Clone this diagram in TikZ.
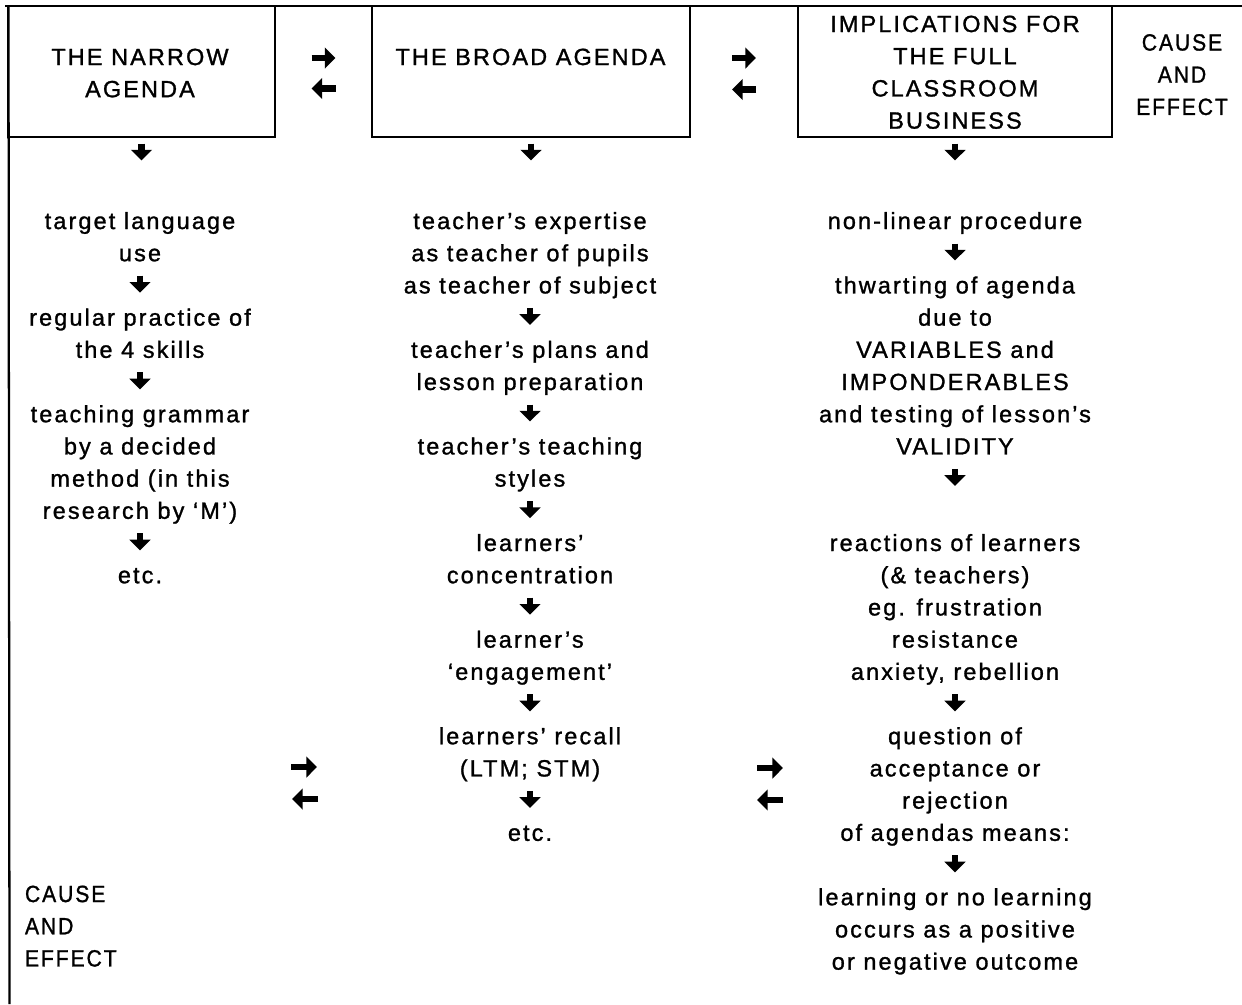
\documentclass[tikz,border=0pt]{standalone}
\usepackage{fontspec}
\usepackage{graphicx}
\setmainfont{Liberation Sans}[LetterSpace=9,FakeBold=1.2]
\usetikzlibrary{arrows.meta,calc}
\begin{document}
\begin{tikzpicture}[x=0.75pt,y=-0.75pt,
  rule/.style={line width=1.7pt},
  box/.style={draw,line width=1.6pt,inner sep=0pt,outer sep=0pt},
  txt/.style={font=\fontsize{17.6pt}{24.15pt}\selectfont,align=center,
    inner sep=0pt,outer sep=0pt,anchor=north,
    execute at end node=\strut},
  fat/.style={line width=4.8pt,-{Triangle[length=8pt,width=15.5pt]}},
  downstep/.style={to path={($(\tikztostart)+(0,#1)$) -- ($(\tikztostart)+(0,#1+17)$)}},
  downstep/.default=4.8,
  rightstep/.style={to path={($(\tikztostart)!.5!(\tikztotarget)+(-12,#1)$) -- ($(\tikztostart)!.5!(\tikztotarget)+(12,#1)$)}},
  leftstep/.style={to path={($(\tikztostart)!.5!(\tikztotarget)+(12,#1)$) -- ($(\tikztostart)!.5!(\tikztotarget)+(-12,#1)$)}},
]
\useasboundingbox (0,0) rectangle (1242,1004);
\fill[white] (0,0) rectangle (1242,1004);

% frame: top rule and left rule
\draw[rule] (5,6) -- (1242,6);
\draw[rule] (8.5,6) -- (9.5,1004);

% heading boxes
\node[box,minimum width=200.25pt,minimum height=98.25pt] (nar) at (141.5,71.5) {};
\node[box,minimum width=238.5pt,minimum height=98.25pt] (bro) at (531,71.5) {};
\node[box,minimum width=235.5pt,minimum height=98.25pt] (imp) at (955,71.5) {};

\node[txt] (nart) at (140,42.5) {\strut THE NARROW\\AGENDA};
\node[txt] (brot) at (530.5,42.5) {\strut THE BROAD AGENDA};
\node[txt] (impt) at (955,9.5) {\strut IMPLICATIONS FOR\\THE FULL\\CLASSROOM\\BUSINESS};
\node[txt] (ce1) at (1182,28) {\strut\scalebox{0.9}[1]{CAUSE}\\\scalebox{0.9}[1]{AND}\\\scalebox{0.9}[1]{EFFECT}};

% links between the heading boxes
\draw[fat] (nar.east) to[rightstep=-13.5] (bro.west);
\draw[fat] (bro.west) to[leftstep=17] (nar.east);
\draw[fat] (bro.east) to[rightstep=-13.5] (imp.west);
\draw[fat] (imp.west) to[leftstep=18] (bro.east);

% column 1
\node[txt] (n1a) at (140,206.5) {\strut target language\\use};
\node[txt] (n1b) at (140,303.1) {\strut regular practice of\\the 4 skills};
\node[txt] (n1c) at (140,399.7) {\strut teaching grammar\\by a decided\\method (in this\\research by ‘M’)};
\node[txt] (n1d) at (140,560.7) {\strut etc.};

\draw[fat] (nar.south) to[downstep=6.5] (n1a.north);
\draw[fat] (n1a.south) to[downstep] (n1b.north);
\draw[fat] (n1b.south) to[downstep] (n1c.north);
\draw[fat] (n1c.south) to[downstep] (n1d.north);

% column 2
\node[txt] (n2a) at (530,206.5) {\strut teacher’s expertise\\as teacher of pupils\\as teacher of subject};
\node[txt] (n2b) at (530,335.3) {\strut teacher’s plans and\\lesson preparation};
\node[txt] (n2c) at (530,431.9) {\strut teacher’s teaching\\styles};
\node[txt] (n2d) at (530,528.5) {\strut learners’\\concentration};
\node[txt] (n2e) at (530,625.1) {\strut learner’s\\‘engagement’};
\node[txt] (n2f) at (530,721.7) {\strut learners’ recall\\(LTM; STM)};
\node[txt] (n2g) at (530,818.3) {\strut etc.};

\draw[fat] (bro.south) to[downstep=6.5] (n2a.north);
\draw[fat] (n2a.south) to[downstep] (n2b.north);
\draw[fat] (n2b.south) to[downstep] (n2c.north);
\draw[fat] (n2c.south) to[downstep] (n2d.north);
\draw[fat] (n2d.south) to[downstep] (n2e.north);
\draw[fat] (n2e.south) to[downstep] (n2f.north);
\draw[fat] (n2f.south) to[downstep] (n2g.north);

% column 3
\node[txt] (n3a) at (955,206.5) {\strut non-linear procedure};
\node[txt] (n3b) at (955,270.9) {\strut thwarting of agenda\\due to\\VARIABLES and\\IMPONDERABLES\\and testing of lesson’s\\VALIDITY};
\node[txt] (n3c) at (955,528.5) {\strut reactions of learners\\(\& teachers)\\eg. frustration\\resistance\\anxiety, rebellion};
\node[txt] (n3d) at (955,721.7) {\strut question of\\acceptance or\\rejection\\of agendas means:};
\node[txt] (n3e) at (955,882.7) {\strut learning or no learning\\occurs as a positive\\or negative outcome};

\draw[fat] (imp.south) to[downstep=6.5] (n3a.north);
\draw[fat] (n3a.south) to[downstep] (n3b.north);
\draw[fat] (n3b.south) to[downstep] (n3c.north);
\draw[fat] (n3c.south) to[downstep] (n3d.north);
\draw[fat] (n3d.south) to[downstep] (n3e.north);

% exchanges between the columns lower down
\coordinate (a1) at (291,767);
\coordinate (a2) at (317,767);
\coordinate (b1) at (318,799);
\coordinate (b2) at (292,799);
\coordinate (c1) at (757,768);
\coordinate (c2) at (783,768);
\coordinate (d1) at (783,800);
\coordinate (d2) at (757,800);
\draw[fat] (a1) -- (a2);
\draw[fat] (b1) -- (b2);
\draw[fat] (c1) -- (c2);
\draw[fat] (d1) -- (d2);

% side note, bottom left
\node[txt,align=left,anchor=north west] (ce2) at (25,879.5) {\strut\scalebox{0.9}[1]{CAUSE}\\\scalebox{0.9}[1]{AND}\\\scalebox{0.9}[1]{EFFECT}};
\end{tikzpicture}
\end{document}
